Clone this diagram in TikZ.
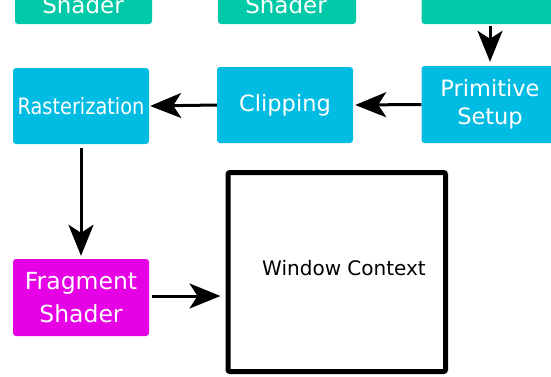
\documentclass[tikz,border=0pt]{standalone}
\usepackage{fontspec}
\setmainfont{DejaVu Sans}
\usetikzlibrary{arrows.meta}
\definecolor{tealbox}{RGB}{0,201,167}
\definecolor{cyanbox}{RGB}{0,188,227}
\definecolor{magbox}{RGB}{230,0,230}
\tikzset{
  stagebox/.style={rectangle, rounded corners=3pt, inner sep=0pt, text=white, align=center,
    font=\fontsize{22.5}{28}\selectfont},
  toptext/.style={anchor=base, inner sep=0pt, text=white, font=\fontsize{23}{28}\selectfont},
  arr/.style={line width=3pt, -{Stealth[length=31pt,width=25pt,inset=8pt]}},
}
\begin{document}
\begin{tikzpicture}[x=1pt,y=-1pt]
\useasboundingbox (0,0) rectangle (551,376);
\clip (0,0) rectangle (551,376);
% top row (cut off)
\node[stagebox, fill=tealbox, minimum width=137pt, minimum height=76pt] (top1) at (83.5,-14) {};
\node[stagebox, fill=tealbox, minimum width=138pt, minimum height=76pt] (top2) at (287,-14) {};
\node[stagebox, fill=tealbox, minimum width=137pt, minimum height=76pt] (top3) at (490,-14) {};
\node[toptext] (top1t) at (83,13) {Shader};
\node[toptext] (top2t) at (286,13) {Shader};
% second row
\node[stagebox, fill=cyanbox, minimum width=136pt, minimum height=76pt] (rast) at (81,106)
  {\scalebox{0.86}[1]{Rasterization}};
\node[stagebox, fill=cyanbox, minimum width=136pt, minimum height=76pt] (clip) at (285,105) {Clipping};
\node[stagebox, fill=cyanbox, minimum width=137pt, minimum height=77pt] (prim) at (490,104.5)
  {Primitive\\Setup};
% third row
\node[stagebox, fill=magbox, minimum width=136pt, minimum height=77pt,
  font=\fontsize{23.5}{33}\selectfont] (frag) at (81,297.5) {Fragment\\Shader};
\node[draw, line width=5pt, rounded corners=2pt, minimum width=217.5pt, minimum height=199pt,
  inner sep=0pt] (win) at (336.75,272) {};
\node[inner sep=0pt, font=\fontsize{20}{24}\selectfont] (wint) at (344,268.5) {Window Context};
% connectors
\draw[arr, shorten <=2pt, shorten >=4pt] (top3.south) -- (top3.south |- prim.north);
\draw[arr, shorten >=2pt] (prim.west) -- (clip.east);
\draw[arr, shorten >=1pt] (clip.west) -- (rast.east);
\draw[arr, shorten <=4pt, shorten >=3pt] (rast.south) -- (frag.north);
\draw[arr, shorten <=3pt, shorten >=5pt] ([yshift=1.5pt]frag.east) -- ([yshift=1.5pt]frag.east -| win.west);
\end{tikzpicture}
\end{document}
